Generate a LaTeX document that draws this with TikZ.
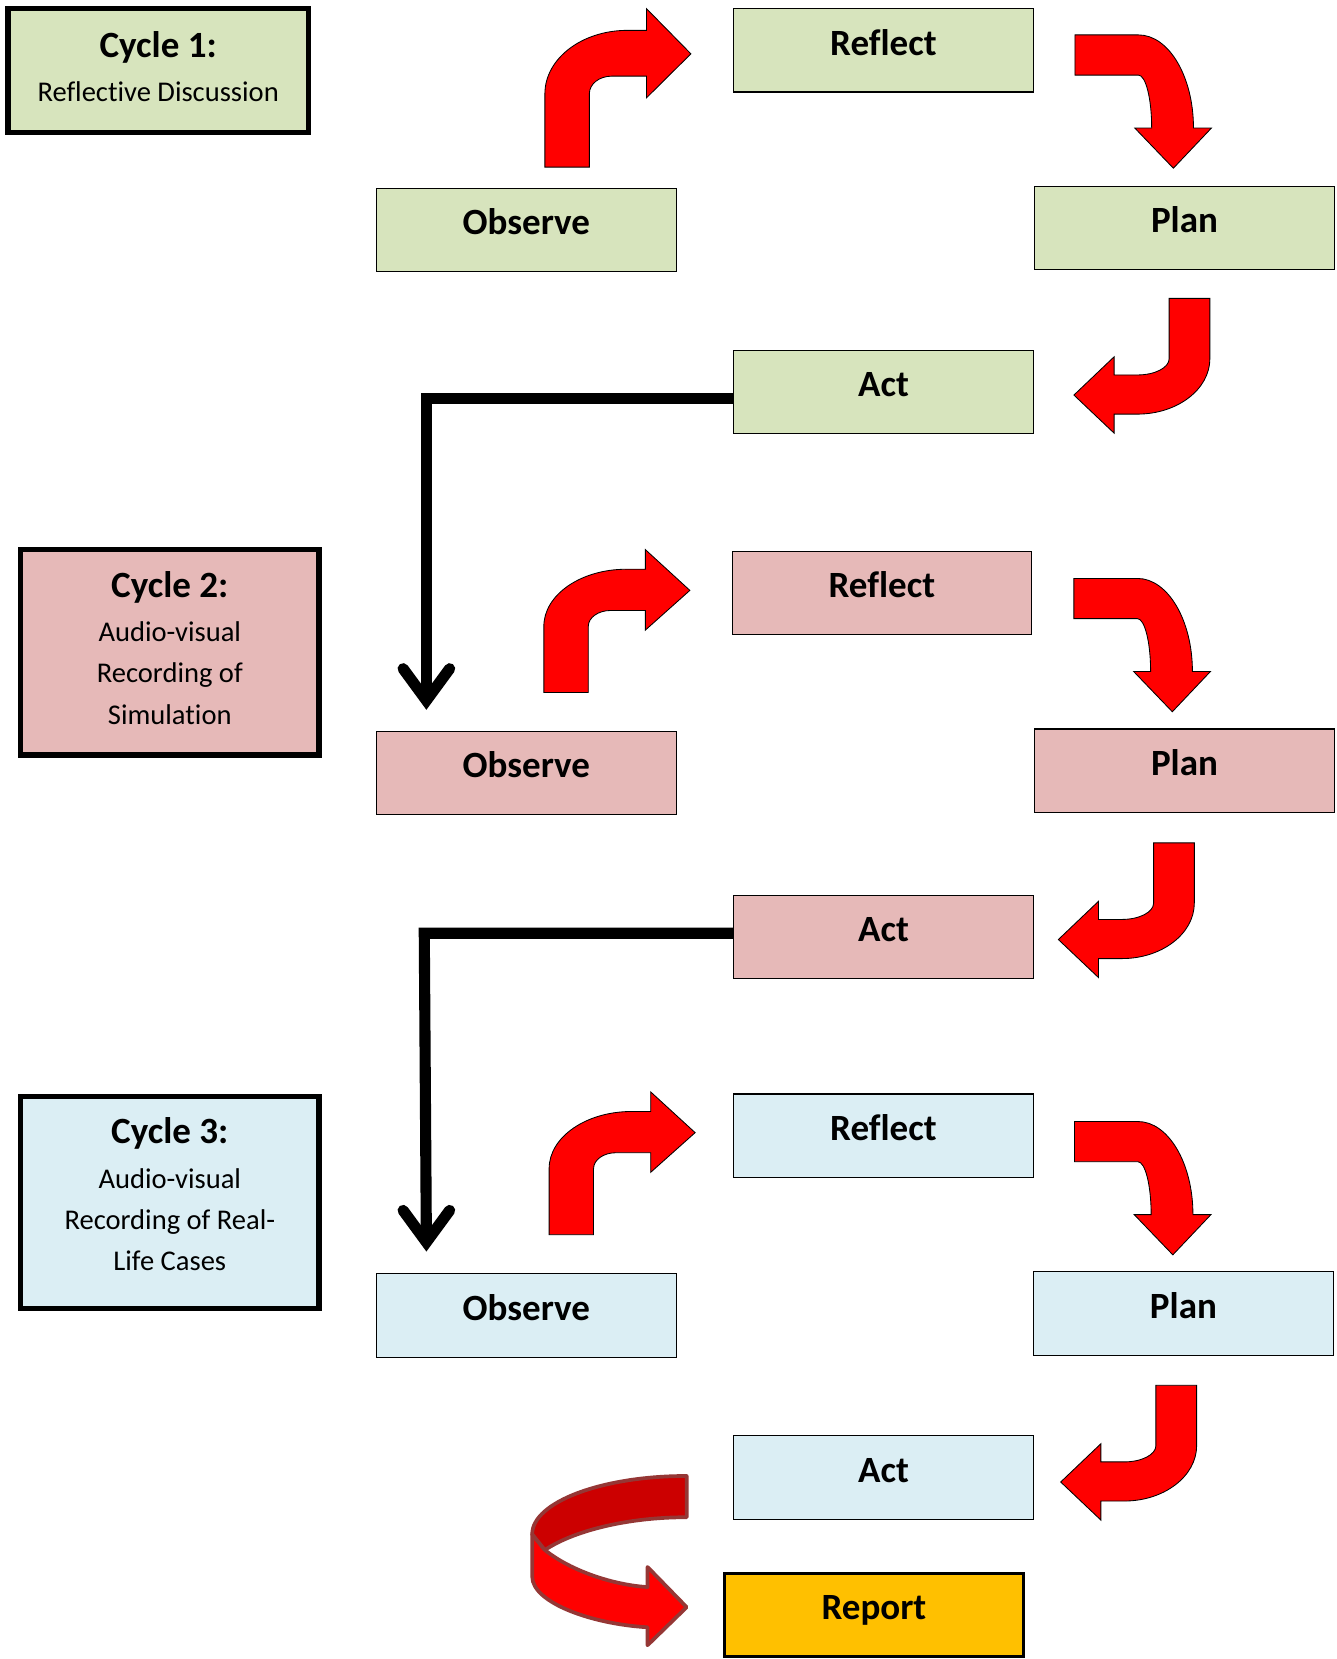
\documentclass[tikz,border=0pt]{standalone}
\usepackage{fontspec}
\setmainfont{Carlito}[Ligatures=NoCommon]
\definecolor{cgreen}{HTML}{D7E4BD}
\definecolor{cpink}{HTML}{E6B9B8}
\definecolor{cblue}{HTML}{DBEEF4}
\definecolor{cgold}{HTML}{FFC000}
\definecolor{arrowred}{HTML}{FF0000}
\definecolor{ribbondark}{HTML}{CC0000}
\definecolor{ribbonedge}{HTML}{953735}
\begin{document}
\begin{tikzpicture}[x=1pt,y=-1pt,
  procbox/.style={draw=black, line width=1.1pt, minimum width=283pt, minimum height=79pt,
    inner sep=0pt, text height=21pt, text depth=12pt,
    font=\fontsize{35}{40}\selectfont\bfseries},
  cyclebox/.style={draw=black, line width=5pt, inner sep=0pt},
  titletext/.style={anchor=base, inner sep=0pt, font=\fontsize{35}{40}\selectfont\bfseries},
  subtext/.style={anchor=base, inner sep=0pt, font=\fontsize{27}{32}\selectfont},
  redarrow/.style={fill=arrowred, draw=black, line width=0.8pt, line join=miter},
  blackconn/.style={draw=black, line width=10.5pt, line join=miter},
  blackhead/.style={draw=black, line width=10.5pt, line cap=round, line join=miter},
  % curved arrow from Observe up and right to Reflect
  bentA/.pic={
    \path[redarrow] (0,0) -- (42,0) -- (42,-62.5)
      .. controls (42,-70.8) and (51.4,-77.5) .. (63,-77.5)
      -- (96,-77.5) -- (96,-59) -- (138,-96.5) -- (96,-135) -- (96,-116.5) -- (78,-116.5)
      .. controls (34.9,-116.5) and (0,-92.3) .. (0,-62.5) -- cycle;
  },
  % curved arrow from Reflect right and down to Plan
  bentB/.pic={
    \path[redarrow] (0,0) -- (60,0)
      .. controls (88.7,0) and (112,39.4) .. (112,88)
      -- (129,88) -- (93,126) -- (56.5,88) -- (72.5,88)
      .. controls (72.5,60.4) and (66.9,38) .. (60,38)
      -- (0,38) -- cycle;
  },
  % curved arrow from Plan down and left to Act
  bentC/.pic={
    \path[redarrow] (0,0) -- (38.5,0) -- (38.5,57)
      .. controls (38.5,85.9) and (7.8,109.4) .. (-30,109.4)
      -- (-52,109.4) -- (-52,127.4) -- (-90,91.4) -- (-52,55.2) -- (-52,72.4) -- (-30,72.4)
      .. controls (-13.4,72.4) and (0,65.5) .. (0,57) -- cycle;
  }
]
\fill[white] (0,0) rectangle (1263,1568);
\useasboundingbox (0,0) rectangle (1263,1568);

% ---------- Cycle 1 ----------
\node[cyclebox, fill=cgreen, minimum width=284pt, minimum height=117pt] (cyc1) at (149.5,66.5) {};
\node[titletext] (cyc1t) at (149.5,54) {Cycle 1:};
\node[subtext] (cyc1s) at (149.5,95.5) {Reflective Discussion};

\node[procbox, fill=cgreen] (reflect1) at (835,47.5) {Reflect};
\node[procbox, fill=cgreen] (observe1) at (497.5,217.5) {Observe};
\node[procbox, fill=cgreen] (plan1) at (1119.5,215.5) {Plan};
\node[procbox, fill=cgreen] (act1) at (835,370.5) {Act};

\pic[yscale=1.11] at (515,158) {bentA};
\pic at (1016,33) {bentB};
\pic at (1105,282) {bentC};

% ---------- Cycle 2 ----------
\node[cyclebox, fill=cpink, minimum width=282pt, minimum height=194pt] (cyc2) at (160.5,616.5) {};
\node[titletext] (cyc2t) at (160.5,565) {Cycle 2:};
\node[subtext] (cyc2a) at (160.5,606.5) {Audio-visual};
\node[subtext] (cyc2b) at (160.5,645.5) {Recording of};
\node[subtext] (cyc2c) at (160.5,684.5) {Simulation};

\node[procbox, fill=cpink] (reflect2) at (833.5,560.5) {Reflect};
\node[procbox, fill=cpink] (observe2) at (497.5,730.5) {Observe};
\node[procbox, fill=cpink] (plan2) at (1119.5,728.5) {Plan};
\node[procbox, fill=cpink] (act2) at (835,885.5) {Act};

\pic at (514,654.5) {bentA};
\pic at (1015,546.7) {bentB};
\pic at (1090.3,796.6) {bentC};

% ---------- Cycle 3 ----------
\node[cyclebox, fill=cblue, minimum width=282pt, minimum height=200pt] (cyc3) at (160.5,1136.5) {};
\node[titletext] (cyc3t) at (160.5,1081) {Cycle 3:};
\node[subtext] (cyc3a) at (160.5,1123.5) {Audio-visual};
\node[subtext] (cyc3b) at (160.5,1162.5) {Recording of Real-};
\node[subtext] (cyc3c) at (160.5,1200.5) {Life Cases};

\node[procbox, fill=cblue] (reflect3) at (835,1073.5) {Reflect};
\node[procbox, fill=cblue] (observe3) at (497.5,1243.5) {Observe};
\node[procbox, fill=cblue] (plan3) at (1118.5,1241.5) {Plan};
\node[procbox, fill=cblue] (act3) at (835,1396.5) {Act};

\pic at (519,1167) {bentA};
\pic at (1015.5,1060) {bentB};
\pic at (1092.5,1309.3) {bentC};

% ---------- Report ----------
\node[procbox, fill=cgold, line width=3pt] (report) at (826,1526.5) {Report};

% ---------- links from Act to the next cycle ----------
\coordinate (k1) at (403,377);
\coordinate (t1) at (403,662);
\draw[blackconn] (act1.west |- k1) -- (k1) -- (t1);
\draw[blackhead] ([shift={(-22,-30)}]t1) -- (t1) -- ([shift={(22,-30)}]t1);

\coordinate (k2) at (401,882);
\coordinate (t2) at (403,1174);
\draw[blackconn] (act2.west |- k2) -- (k2) -- (t2);
\draw[blackhead] ([shift={(-22,-30)}]t2) -- (t2) -- ([shift={(22,-30)}]t2);

% ---------- ribbon arrow towards the report ----------
\path[fill=arrowred, draw=ribbonedge, line width=3.5pt, line join=round]
  (503,1450) -- (515,1465)
  .. controls (540,1485) and (580,1498) .. (612,1500)
  -- (612,1481) -- (649,1519) -- (612,1555) -- (612,1538)
  .. controls (560,1535) and (503,1515) .. (503,1490) -- cycle;
\path[fill=ribbondark, draw=ribbonedge, line width=3.5pt, line join=round]
  (649,1395) .. controls (568,1395) and (503,1420) .. (503,1450)
  -- (515,1465) .. controls (540,1448) and (590,1434) .. (649,1434) -- cycle;
\end{tikzpicture}
\end{document}
